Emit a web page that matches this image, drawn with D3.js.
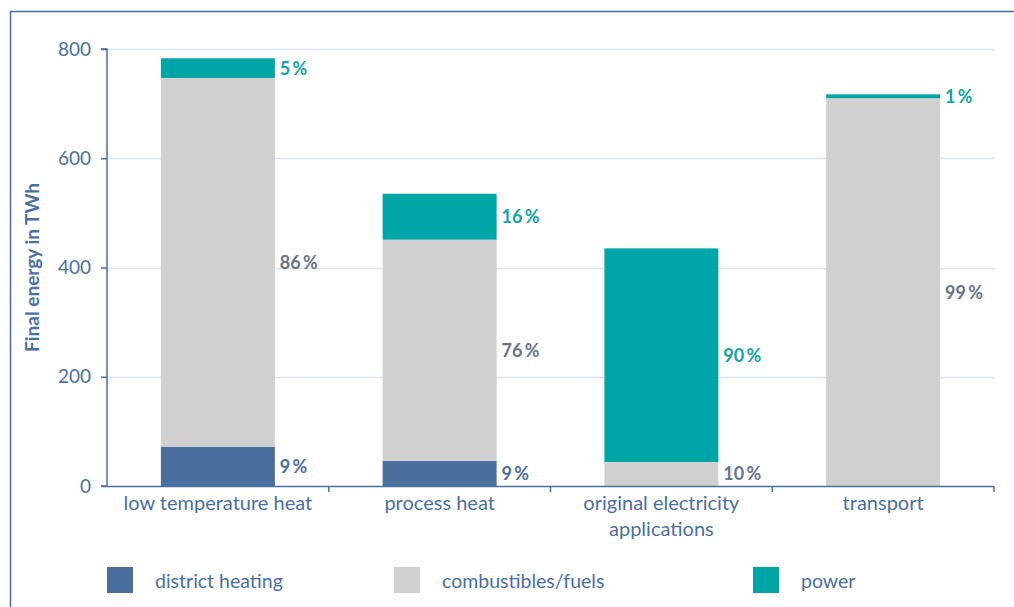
<!DOCTYPE html>
<html>
<head>
<meta charset="utf-8">
<script src="https://cdn.jsdelivr.net/npm/d3@7"></script>
<style>
  html, body { margin: 0; padding: 0; background: #ffffff; }
  svg { display: block; font-family: Lato, "Open Sans", sans-serif; }
</style>
</head>
<body>
<svg id="chart" width="1014" height="607"></svg>
<script>
// Final energy demand by application, split by energy carrier (TWh)
const categories = [["low temperature heat"], ["process heat"], ["original electricity", "applications"], ["transport"]];
const series = ["district heating", "combustibles/fuels", "power"];
const districtHeating = [72, 46, 0, 0];
const combustibles = [675, 405, 44, 710];
const power = [36, 84, 391, 7];
const yTicks = [0, 200, 400, 600, 800];

const colors = { "district heating": "#4a6e9d", "combustibles/fuels": "#d0d0d0", "power": "#00a5a8" };
const labelColors = { "district heating": "#4a6e9d", "combustibles/fuels": "#697386", "power": "#14a3a6" };
const axisColor = "#4a6fa0";

const svg = d3.select("#chart");
const W = 1014, H = 607;
const plot = { left: 107, right: 994, top: 49, bottom: 486 };

// outer frame (runs off the right and bottom edges)
svg.append("path")
  .attr("d", `M10.5,${H + 2} V11.5 H${W + 2}`)
  .attr("fill", "none").attr("stroke", axisColor).attr("stroke-width", 1.5);

const keys = categories.map(c => c.join(" "));
const x = d3.scaleBand().domain(keys).range([plot.left, plot.right]).paddingInner(0.486).paddingOuter(0.243);
const y = d3.scaleLinear().domain([0, 800]).range([plot.bottom, plot.top]);

// gridlines
svg.append("g").selectAll("line").data(yTicks.filter(t => t > 0)).join("line")
  .attr("x1", plot.left).attr("x2", plot.right + 1)
  .attr("y1", d => Math.round(y(d)) + 0.5).attr("y2", d => Math.round(y(d)) + 0.5)
  .attr("stroke", "#dde1f0").attr("stroke-width", 1.5);

// stacked bars
const rows = keys.map((k, i) => ({ key: k, "district heating": districtHeating[i], "combustibles/fuels": combustibles[i], "power": power[i] }));
const stacked = d3.stack().keys(series)(rows);

const barGroup = svg.append("g");
stacked.forEach(layer => {
  barGroup.append("g").attr("fill", colors[layer.key])
    .selectAll("rect").data(layer.filter(d => d[1] - d[0] > 0)).join("rect")
    .attr("x", d => x(d.data.key))
    .attr("width", x.bandwidth())
    .attr("y", d => y(d[1]))
    .attr("height", d => y(d[0]) - y(d[1]));
});

// percentage labels beside each segment
const labelGroup = svg.append("g").attr("font-weight", 700).attr("font-size", 18);
stacked.forEach(layer => {
  labelGroup.selectAll(null).data(layer.filter(d => d[1] - d[0] > 0)).join("text")
    .attr("x", d => x(d.data.key) + x.bandwidth() + 5)
    .attr("y", d => (y(d[0]) + y(d[1])) / 2)
    .attr("dy", "0.36em")
    .attr("fill", labelColors[layer.key])
    .text(d => {
      const total = series.reduce((s, k) => s + d.data[k], 0);
      return Math.round((d[1] - d[0]) / total * 100) + "\u2009%";
    });
});

// y axis
const yAxis = svg.append("g").attr("transform", `translate(${plot.left},0)`)
  .call(d3.axisLeft(y).tickValues(yTicks).tickSize(6).tickPadding(10));
yAxis.select(".domain").attr("stroke", axisColor).attr("stroke-width", 1.5).attr("d", `M-6,${plot.top}H0V${plot.bottom}H-6`);
yAxis.selectAll(".tick line").attr("stroke", axisColor).attr("stroke-width", 1.5);
yAxis.selectAll(".tick text").attr("fill", axisColor).attr("font-size", 19).attr("font-family", "Lato, sans-serif");

// x axis with boundary ticks between categories
const xg = svg.append("g");
xg.append("line").attr("x1", plot.left).attr("x2", plot.right)
  .attr("y1", plot.bottom + 0.5).attr("y2", plot.bottom + 0.5)
  .attr("stroke", axisColor).attr("stroke-width", 1.5);
const bounds = keys.map(k => x(k) - x.step() * x.paddingInner() / 2).slice(1).concat([plot.right]);
xg.selectAll(".bt").data(bounds).join("line")
  .attr("x1", d => d).attr("x2", d => d)
  .attr("y1", plot.bottom).attr("y2", plot.bottom + 6)
  .attr("stroke", axisColor).attr("stroke-width", 1.5);
const catText = xg.selectAll(".cat").data(categories).join("text")
  .attr("x", (d, i) => x(keys[i]) + x.bandwidth() / 2)
  .attr("y", plot.bottom + 24)
  .attr("text-anchor", "middle")
  .attr("fill", axisColor).attr("font-size", 20);
catText.selectAll("tspan").data(d => d).join("tspan")
  .attr("x", function () { return d3.select(this.parentNode).attr("x"); })
  .attr("dy", (d, i) => i === 0 ? 0 : 26)
  .text(d => d);

// y axis title
svg.append("text")
  .attr("transform", `translate(39,${(plot.top + plot.bottom) / 2}) rotate(-90)`)
  .attr("text-anchor", "middle")
  .attr("fill", axisColor).attr("font-weight", 700).attr("font-size", 19)
  .text("Final energy in TWh");

// legend
const legendX = [107, 394, 753];
const legend = svg.append("g").selectAll("g").data(series).join("g")
  .attr("transform", (d, i) => `translate(${legendX[i]},567)`);
legend.append("rect").attr("width", 26).attr("height", 26).attr("fill", d => colors[d]);
legend.append("text").attr("x", 48).attr("y", 14).attr("dy", "0.36em")
  .attr("fill", axisColor).attr("font-size", 19.5).text(d => d);
</script>
</body>
</html>
